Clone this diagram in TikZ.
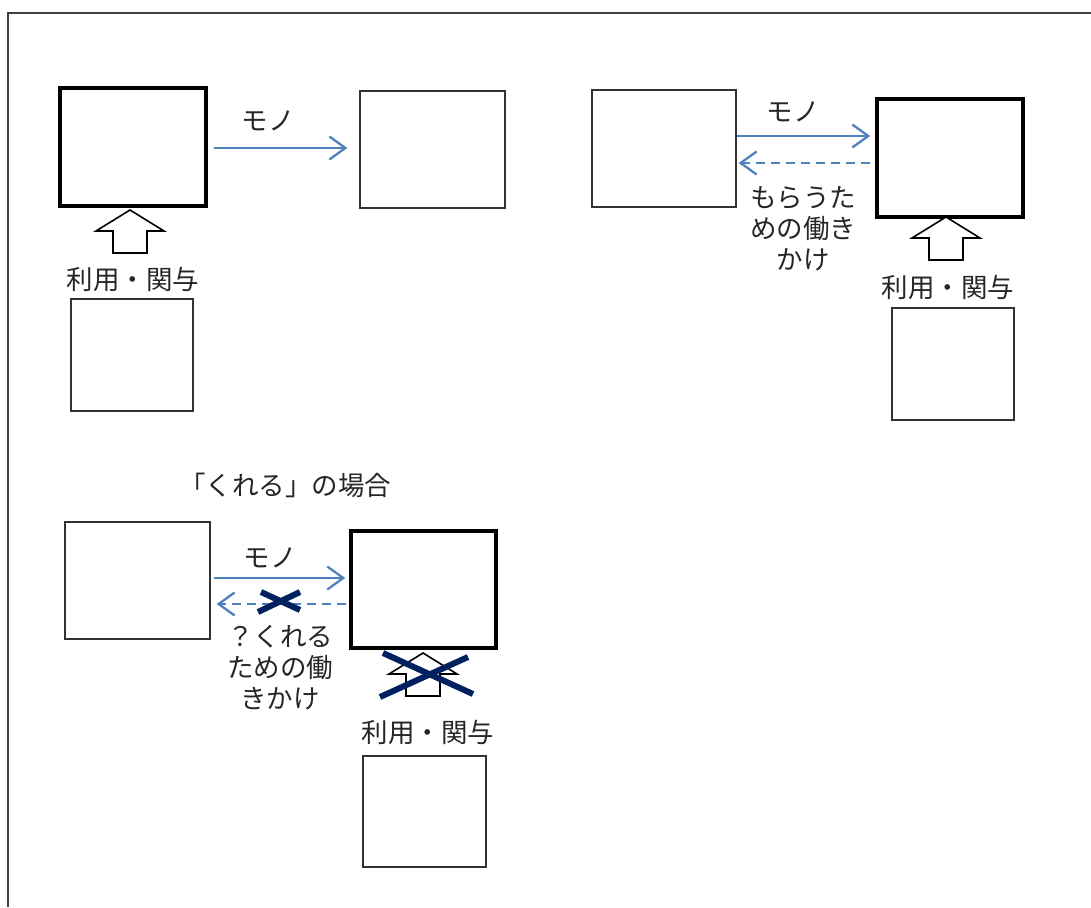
\documentclass[tikz,border=0pt]{standalone}
\usepackage{fontspec}
\newfontfamily\jp{Noto Sans CJK JP}
\usetikzlibrary{arrows.meta,calc}
\definecolor{arrowblue}{RGB}{79,129,189}
\definecolor{crossnavy}{RGB}{0,32,96}
\begin{document}
\begin{tikzpicture}[x=1pt,y=-1pt,
  thinbox/.style={draw=black!80, line width=1.3pt, inner sep=0pt},
  thickbox/.style={draw=black, line width=3.5pt, inner sep=0pt},
  jlabel/.style={font=\jp\fontsize{26.5}{31}\selectfont, inner sep=0pt, align=center, text=black!85},
  flow/.style={draw=arrowblue, line width=2.3pt, -{Straight Barb[length=16pt,width=23pt,line width=2.3pt]}},
  backflow/.style={flow, dash pattern=on 9pt off 6pt},
  cross/.style={draw=crossnavy, line width=6pt},
  blockarrow/.style={draw=black, line width=1.6pt, fill=white},
  uparrow/.pic={\draw[blockarrow] (0,0) -- (34,21) -- (17,21) -- (17,43) -- (-17,43) -- (-17,21) -- (-34,21) -- cycle;}]
\useasboundingbox (0,0) rectangle (1091,907);
\draw[black!75, line width=1.3pt] (8,907) -- (8,13) -- (1091,13);

% top left
\node[thickbox, minimum width=146pt, minimum height=118pt] (a1) at (133,147) {};
\node[thinbox, minimum width=145pt, minimum height=117pt] (a2) at (432.5,149.5) {};
\node[thinbox, minimum width=122pt, minimum height=112pt] (a3) at (132,355) {};
\draw[flow] ($(a1.east)+(6,1)$) -- ($(a2.west)+(-12,-1.5)$);
\node[jlabel] (amono) at (268,121) {モノ};
\pic at (130,210) {uparrow};
\node[jlabel] (ause) at (133,279) {利用・関与};

% top right
\node[thinbox, minimum width=144pt, minimum height=117pt] (b1) at (664,148.5) {};
\node[thickbox, minimum width=146pt, minimum height=118pt] (b2) at (950,158) {};
\node[thinbox, minimum width=122pt, minimum height=112pt] (b3) at (953,364) {};
\draw[flow] ($(b1.east)+(0,-12.5)$) -- ($(b2.west)+(-5,-22)$);
\draw[backflow] ($(b2.west)+(-5,5)$) -- ($(b1.east)+(2,14.5)$);
\node[jlabel] (bmono) at (793,112) {モノ};
\node[jlabel] (bwork) at (803,229) {もらうた\\めの働き\\かけ};
\pic at (946,217) {uparrow};
\node[jlabel] (buse) at (948,287) {利用・関与};

% bottom
\node[jlabel] (title) at (285,485) {「くれる」の場合};
\node[thinbox, minimum width=145pt, minimum height=117pt] (c1) at (137.5,580.5) {};
\node[thickbox, minimum width=145pt, minimum height=117pt] (c2) at (423.5,589.5) {};
\node[thinbox, minimum width=123pt, minimum height=111pt] (c3) at (424.5,811.5) {};
\draw[flow] ($(c1.east)+(3,-2.5)$) -- ($(c2.west)+(-4,-11.5)$);
\draw[backflow] ($(c2.west)+(-3,14.5)$) -- ($(c1.east)+(6,23.5)$);
\draw[cross] (258,612) -- (300,592);
\draw[cross] (261,592) -- (300,610);
\node[jlabel] (cmono) at (270,558) {モノ};
\node[jlabel] (cwork) at (280,668) {？くれる\\ための働\\きかけ};
\pic at (423,653) {uparrow};
\draw[cross] (380,697) -- (468,657);
\draw[cross] (383,653) -- (473,694);
\node[jlabel] (cuse) at (428,732) {利用・関与};
\end{tikzpicture}
\end{document}
